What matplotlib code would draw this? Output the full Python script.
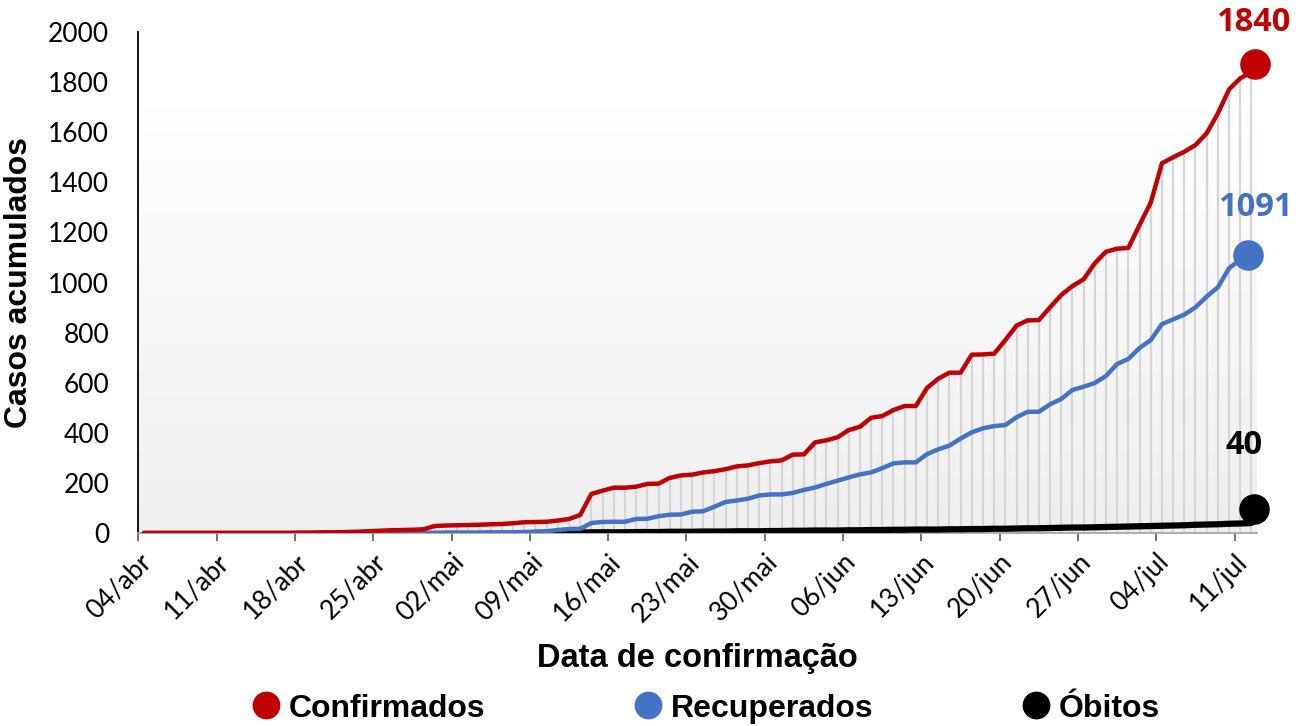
import numpy as np
import pandas as pd
import matplotlib
matplotlib.use('Agg')
import matplotlib.pyplot as plt
from matplotlib.lines import Line2D
from matplotlib.transforms import offset_copy

# daily cumulative series, one value per day
START_DATE = '2020-04-04'
REC_START  = '2020-04-26'
OBT_START  = '2020-05-09'

confirmados = [
    1, 1, 1, 1, 1, 1, 1, 1, 1, 1,
    1, 1, 1, 1, 2, 2, 3, 3, 4, 5,
    7, 9, 11, 12, 13, 15, 28, 30, 31, 32,
    33, 35, 36, 39, 43, 44, 45, 50, 56, 72,
    156, 169, 181, 181, 185, 196, 197, 220, 230, 233,
    242, 247, 255, 266, 270, 279, 286, 290, 313, 314,
    362, 370, 382, 411, 424, 460, 467, 491, 507, 507,
    579, 616, 640, 640, 712, 713, 716, 770, 828, 849,
    850, 901, 950, 986, 1013, 1077, 1123, 1135, 1138, 1230,
    1319, 1476, 1500, 1522, 1549, 1596, 1675, 1771, 1815, 1840,
]
recuperados = [
    1, 1, 1, 1, 1, 2, 2, 2,
    2, 3, 3, 3, 4, 5, 7, 12, 16, 17,
    40, 44, 45, 45, 56, 57, 67, 73, 74, 85,
    87, 105, 124, 130, 137, 150, 154, 154, 160, 172,
    182, 196, 209, 222, 234, 242, 259, 278, 282, 282,
    315, 334, 349, 377, 402, 418, 427, 431, 462, 484,
    484, 514, 535, 571, 584, 599, 627, 675, 695, 739,
    770, 834, 853, 872, 901, 944, 981, 1057, 1091,
]
obitos = [
    1, 1, 2, 2, 2, 3, 3, 3, 3, 4,
    4, 4, 5, 5, 5, 6, 6, 6, 7, 7,
    7, 8, 8, 9, 9, 10, 10, 10, 11, 11,
    12, 12, 13, 13, 14, 14, 14, 15, 15, 16,
    16, 17, 17, 18, 19, 19, 20, 21, 22, 22,
    23, 24, 25, 26, 27, 28, 29, 30, 31, 33,
    34, 35, 37, 38, 40,
]

MESES = {4: 'abr', 5: 'mai', 6: 'jun', 7: 'jul'}
RED, BLUE, BLACK = '#c00000', '#4472c4', '#000000'

TICK_FONT  = ['Lato', 'DejaVu Sans']
LABEL_FONT = ['Open Sans', 'DejaVu Sans']
BOLD_FONT  = ['Liberation Sans', 'DejaVu Sans']


def series(values, start, dates):
    """Place a series on the day index, NaN before its first day."""
    out = np.full(len(dates), np.nan)
    i0 = dates.get_loc(pd.Timestamp(start))
    out[i0:i0 + len(values)] = values
    return out


def main():
    dates = pd.date_range(START_DATE, periods=len(confirmados), freq='D')
    x = np.arange(len(dates))
    conf = np.array(confirmados, dtype=float)
    rec = series(recuperados, REC_START, dates)
    obt = series(obitos, OBT_START, dates)

    fig = plt.figure(figsize=(13.06, 7.26), dpi=100)
    ax = fig.add_axes([0.1059, 0.2658, 0.8566, 0.6901])

    # plot-area gradient: white on top, light gray at the bottom
    g = np.clip(np.linspace(1, 0, 256) / 0.85, 0, 1).reshape(-1, 1)
    top, bot = np.array([1.0, 1.0, 1.0]), np.array([0.937, 0.937, 0.937])
    img = bot + (top - bot) * g[..., None]
    ax.imshow(img, extent=[0, 1, 0, 1], transform=ax.transAxes,
              aspect='auto', zorder=0)

    # drop lines from the top series to the axis
    ax.vlines(x, 0, conf, colors='#d6d6d6', linewidth=1.6, zorder=1)

    ax.plot(x, obt, color=BLACK, linewidth=4.5, solid_capstyle='round', zorder=3)
    ax.plot(x, rec, color=BLUE, linewidth=3.2, solid_capstyle='round', zorder=4)
    ax.plot(x, conf, color=RED, linewidth=3.2, solid_capstyle='round', zorder=5)

    # end markers and labels
    ends = [
        (conf, RED, (4, 8), (2, 50)),
        (rec, BLUE, (8, 5), (15, 52)),
        (obt, BLACK, (3, 14), (-7, 78)),
    ]
    for ser, col, moff, toff in ends:
        i = np.where(~np.isnan(ser))[0][-1]
        tr = offset_copy(ax.transData, fig=fig, x=moff[0], y=moff[1], units='dots')
        ax.plot([x[i]], [ser[i]], 'o', color=col, markersize=21,
                transform=tr, zorder=6, clip_on=False)
        ax.annotate(f'{int(ser[i])}', (x[i], ser[i]), xytext=toff,
                    textcoords='offset pixels', ha='center', va='center',
                    color=col, fontsize=23.5, fontweight='bold',
                    family=LABEL_FONT, annotation_clip=False)

    ax.set_xlim(-0.5, len(dates) - 0.5)
    ax.set_ylim(0, 2000)

    ticks = np.arange(-0.5, len(dates) - 1, 7)
    ax.set_xticks(ticks)
    ax.set_xticklabels([f'{d.day:02d}/{MESES[d.month]}' for d in dates[::7]],
                       rotation=45, ha='right', rotation_mode='anchor',
                       family=TICK_FONT, fontsize=19)
    ax.set_yticks(np.arange(0, 2001, 200))
    ax.set_yticklabels([str(v) for v in range(0, 2001, 200)],
                       family=TICK_FONT, fontsize=19)
    ax.tick_params(axis='x', direction='out', length=5.5, width=1.2,
                   color='#595959', pad=6)
    ax.tick_params(axis='y', length=0, pad=21)

    for s in ('top', 'right'):
        ax.spines[s].set_visible(False)
    ax.spines['left'].set_color('#000000')
    ax.spines['left'].set_linewidth(1.3)
    ax.spines['bottom'].set_color('#a6a6a6')
    ax.spines['bottom'].set_linewidth(1.3)

    ax.set_xlabel('Data de confirmação', family=BOLD_FONT, fontsize=23.5,
                  fontweight='bold', labelpad=12)
    ax.set_ylabel('Casos acumulados', family=BOLD_FONT, fontsize=23,
                  fontweight='bold', labelpad=10)

    handles = [Line2D([], [], marker='o', linestyle='', color=c, markersize=19)
               for c in (RED, BLUE, BLACK)]
    fig.legend(handles, ['Confirmados', 'Recuperados', 'Óbitos'],
               loc='center', bbox_to_anchor=(0.541, 0.024), ncol=3,
               frameon=False, handlelength=0.8, handletextpad=0.3,
               columnspacing=4.7,
               prop={'family': BOLD_FONT, 'size': 23, 'weight': 'bold'})

    fig.savefig('out.png', dpi=100)
    plt.close(fig)


if __name__ == '__main__':
    main()
